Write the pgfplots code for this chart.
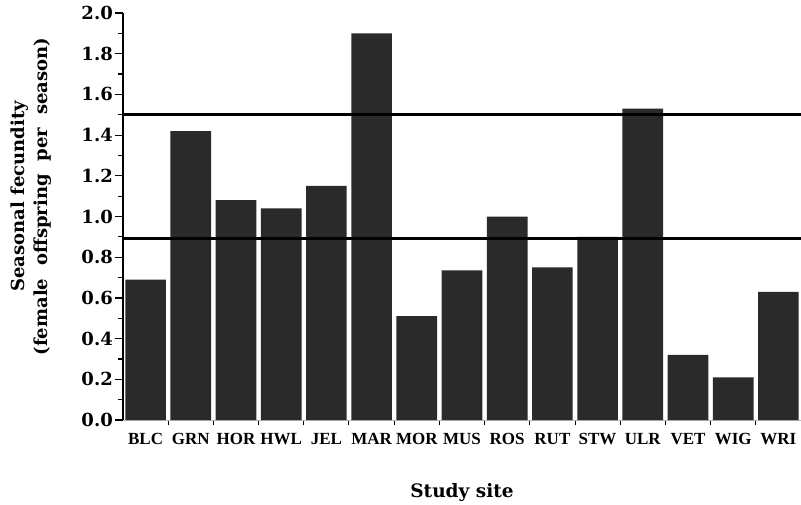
\documentclass[border=0pt]{standalone}
\usepackage{pgfplots}
\pgfplotsset{compat=1.18}
\usepackage{fontspec}
\setmainfont{Liberation Serif}
\newfontfamily\dvs{DejaVu Serif}
\definecolor{barcol}{HTML}{2A2A2A}
\begin{document}
\begin{tikzpicture}[x=1pt,y=1pt]
\begin{axis}[
  at={(0,0)}, anchor=south west,
  scale only axis, width=678pt, height=407pt,
  xmin=-0.5, xmax=14.5, ymin=0, ymax=2.0,
  axis lines*=left,
  x axis line style={gray!55, line width=1pt},
  y axis line style={black, line width=1.6pt},
  tick align=outside,
  ytick={0,0.2,...,2.0}, minor y tick num=1,
  major tick length=8pt, minor tick length=5pt,
  y tick style={black, line width=1.2pt},
  /pgf/number format/assume math mode=true,
  yticklabel style={font=\dvs\bfseries\fontsize{18}{19}\selectfont, inner xsep=2pt,
    /pgf/number format/.cd, fixed, fixed zerofill, precision=1},
  xtick={0,...,14},
  xticklabels={BLC,GRN,HOR,HWL,JEL,MAR,MOR,MUS,ROS,RUT,STW,ULR,VET,WIG,WRI},
  major x tick style={draw=none},
  minor xtick={0.5,1.5,...,13.5},
  minor x tick style={black, line width=1pt},
  xticklabel style={font=\bfseries\fontsize{17}{18}\selectfont, yshift=-2pt},
  xlabel={Study site},
  xlabel style={font=\dvs\bfseries\fontsize{18.5}{20}\selectfont, at={(axis description cs:0.5,0)}, anchor=base, yshift=-77pt},
  ylabel={Seasonal fecundity\\(female\hspace{13pt}offspring\hspace{13pt}per\hspace{13pt}season)},
  ylabel style={font=\dvs\bfseries\fontsize{18}{23}\selectfont, align=center, at={(axis description cs:0,0.5)}, anchor=south, yshift=68pt, xshift=20pt},
]
\addplot[ybar, bar width=0.9, fill=barcol, draw=none] coordinates {
  (0,0.69) (1,1.42) (2,1.08) (3,1.04) (4,1.15) (5,1.90) (6,0.51) (7,0.735)
  (8,1.00) (9,0.75) (10,0.90) (11,1.53) (12,0.32) (13,0.21) (14,0.63)
};
\addplot[black, line width=2.8pt] coordinates {(-0.5,1.5) (14.5,1.5)};
\addplot[black, line width=2.8pt] coordinates {(-0.5,0.893) (14.5,0.893)};
\end{axis}
\pgfresetboundingbox
\path[use as bounding box] (-123,-84) rectangle (678,420);
\end{tikzpicture}
\end{document}
